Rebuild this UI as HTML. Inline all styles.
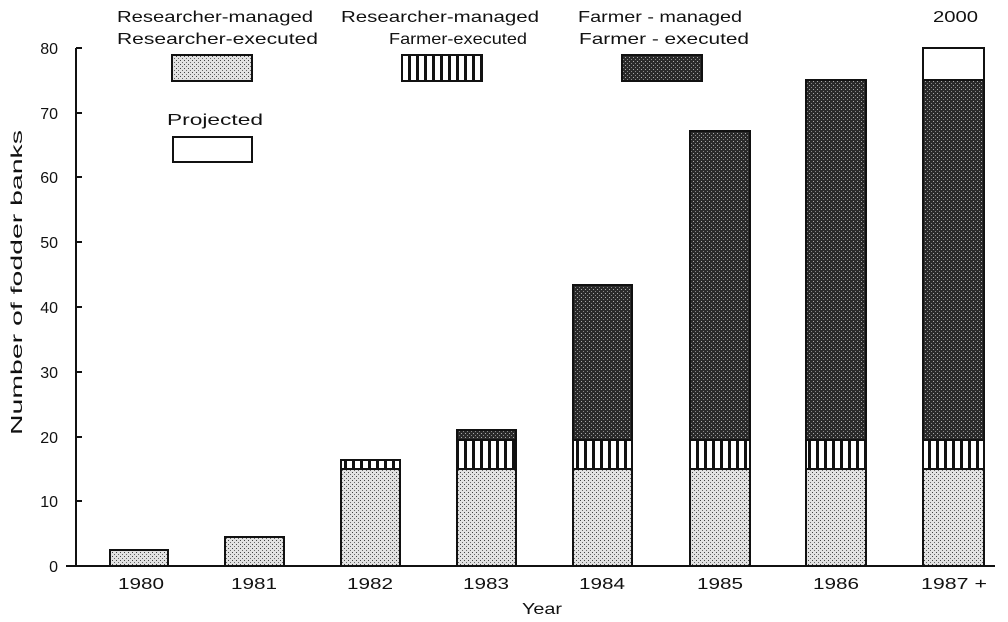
<!DOCTYPE html>
<html><head><meta charset="utf-8"><style>body{margin:0;background:#fff}svg{display:block}text{font-family:"Liberation Sans",sans-serif;fill:#111}</style></head><body>
<svg width="1008" height="622" viewBox="0 0 1008 622" xmlns="http://www.w3.org/2000/svg">
<defs>
<pattern id="lt" width="4" height="4" patternUnits="userSpaceOnUse"><rect width="4" height="4" fill="#e2e2e2"/><rect x="0" y="0" width="1" height="1" fill="#444"/><rect x="2" y="2" width="1" height="1" fill="#666"/></pattern>
<pattern id="vs" width="8" height="10" patternUnits="userSpaceOnUse"><rect width="8" height="10" fill="#fff"/><rect x="0" y="0" width="3" height="10" fill="#111"/></pattern>
<pattern id="dk" width="4" height="4" patternUnits="userSpaceOnUse"><rect width="4" height="4" fill="#2a2a2a"/><rect x="1" y="1" width="1" height="1" fill="#aaa"/><rect x="3" y="3" width="1" height="1" fill="#888"/></pattern>
</defs>
<g stroke="#111" stroke-width="2">
<line x1="76" y1="48" x2="76" y2="566"/>
<line x1="66" y1="566" x2="995" y2="566"/>
<line x1="76" y1="48" x2="82" y2="48"/><line x1="76" y1="113" x2="82" y2="113"/><line x1="76" y1="177" x2="82" y2="177"/><line x1="76" y1="242" x2="82" y2="242"/><line x1="76" y1="307" x2="82" y2="307"/><line x1="76" y1="372" x2="82" y2="372"/><line x1="76" y1="437" x2="82" y2="437"/><line x1="76" y1="501" x2="82" y2="501"/>
</g>
<g font-size="16" text-anchor="end">
<text x="58" y="54">80</text><text x="58" y="119">70</text><text x="58" y="183">60</text><text x="58" y="248">50</text><text x="58" y="313">40</text><text x="58" y="378">30</text><text x="58" y="443">20</text><text x="58" y="507">10</text><text x="58" y="572">0</text>
</g>
<g stroke="#111" stroke-width="2">
<rect x="110" y="550" width="58" height="16" fill="url(#lt)"/>
<rect x="225" y="537" width="59" height="29" fill="url(#lt)"/>
<rect x="341" y="469" width="59" height="97" fill="url(#lt)"/><rect x="341" y="460" width="59" height="9" fill="url(#vs)"/>
<rect x="457" y="469" width="59" height="97" fill="url(#lt)"/><rect x="457" y="440" width="59" height="29" fill="url(#vs)"/><rect x="457" y="430" width="59" height="10" fill="url(#dk)"/>
<rect x="573" y="469" width="59" height="97" fill="url(#lt)"/><rect x="573" y="440" width="59" height="29" fill="url(#vs)"/><rect x="573" y="285" width="59" height="155" fill="url(#dk)"/>
<rect x="690" y="469" width="60" height="97" fill="url(#lt)"/><rect x="690" y="440" width="60" height="29" fill="url(#vs)"/><rect x="690" y="131" width="60" height="309" fill="url(#dk)"/>
<rect x="806" y="469" width="60" height="97" fill="url(#lt)"/><rect x="806" y="440" width="60" height="29" fill="url(#vs)"/><rect x="806" y="80" width="60" height="360" fill="url(#dk)"/>
<rect x="923" y="469" width="61" height="97" fill="url(#lt)"/><rect x="923" y="440" width="61" height="29" fill="url(#vs)"/><rect x="923" y="80" width="61" height="360" fill="url(#dk)"/><rect x="923" y="48" width="61" height="32" fill="#fff"/>
<rect x="172" y="55" width="80" height="26" fill="url(#lt)"/>
<rect x="402" y="55" width="80" height="26" fill="url(#vs)"/>
<rect x="622" y="55" width="80" height="26" fill="url(#dk)"/>
<rect x="173" y="137" width="79" height="25" fill="#fff"/>
</g>
<g font-size="16">
<text x="118" y="589" textLength="46" lengthAdjust="spacingAndGlyphs">1980</text>
<text x="231" y="589" textLength="46" lengthAdjust="spacingAndGlyphs">1981</text>
<text x="347" y="589" textLength="46" lengthAdjust="spacingAndGlyphs">1982</text>
<text x="463" y="589" textLength="46" lengthAdjust="spacingAndGlyphs">1983</text>
<text x="579" y="589" textLength="46" lengthAdjust="spacingAndGlyphs">1984</text>
<text x="697" y="589" textLength="46" lengthAdjust="spacingAndGlyphs">1985</text>
<text x="813" y="589" textLength="46" lengthAdjust="spacingAndGlyphs">1986</text>
<text x="921" y="589" textLength="66" lengthAdjust="spacingAndGlyphs">1987 +</text>
<text x="522" y="614" textLength="40" lengthAdjust="spacingAndGlyphs">Year</text>
<text x="117" y="22" textLength="196" lengthAdjust="spacingAndGlyphs">Researcher-managed</text>
<text x="117" y="44" textLength="201" lengthAdjust="spacingAndGlyphs">Researcher-executed</text>
<text x="341" y="22" textLength="198" lengthAdjust="spacingAndGlyphs">Researcher-managed</text>
<text x="389" y="44" textLength="138" lengthAdjust="spacingAndGlyphs">Farmer-executed</text>
<text x="578" y="22" textLength="164" lengthAdjust="spacingAndGlyphs">Farmer - managed</text>
<text x="579" y="44" textLength="170" lengthAdjust="spacingAndGlyphs">Farmer - executed</text>
<text x="167" y="125" textLength="96" lengthAdjust="spacingAndGlyphs">Projected</text>
<text x="933" y="22" textLength="45" lengthAdjust="spacingAndGlyphs">2000</text>
<text transform="translate(22,435) rotate(-90)" textLength="305" lengthAdjust="spacingAndGlyphs">Number of fodder banks</text>
</g>
</svg>
</body></html>
